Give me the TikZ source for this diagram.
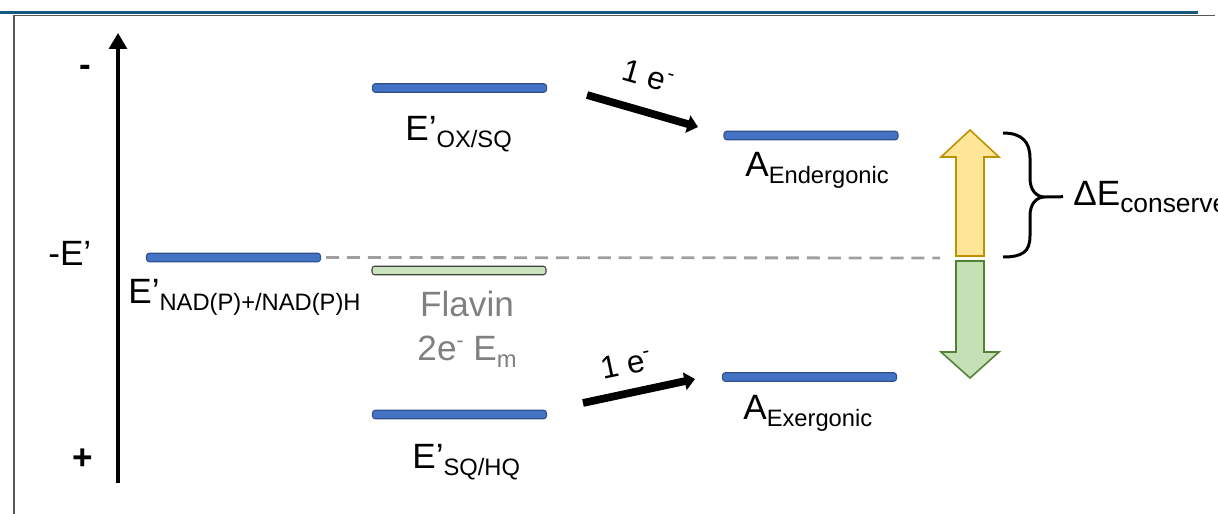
\documentclass[tikz,border=0pt]{standalone}
\usepackage{fontspec}
\setmainfont{Liberation Sans}
\usetikzlibrary{arrows.meta,positioning}

\definecolor{barblue}{RGB}{68,114,196}
\definecolor{bardark}{RGB}{47,82,143}
\definecolor{flavgreen}{RGB}{204,228,190}
\definecolor{upfill}{RGB}{255,230,153}
\definecolor{upline}{RGB}{191,144,0}
\definecolor{downfill}{RGB}{197,224,180}
\definecolor{downline}{RGB}{84,130,53}
\definecolor{framegray}{RGB}{89,89,89}
\definecolor{topblue}{RGB}{22,88,128}
\definecolor{flavgray}{RGB}{128,128,128}

\newcommand{\lowsub}[1]{\raisebox{-4pt}{\fontsize{13.5}{14}\selectfont #1}}
\newcommand{\minussup}{\raisebox{7pt}{\fontsize{12}{12}\selectfont -}}

\tikzset{
  level/.style={draw=bardark,fill=barblue,line width=0.6pt,rounded corners=1.5pt,
    minimum width=3.48cm,minimum height=0.17cm,inner sep=0pt},
  lbl/.style={font=\fontsize{20}{24}\selectfont,inner sep=0pt,anchor=base west},
  eflow/.style={line width=4.4pt,-{Triangle[width=10pt,length=6pt]}},
}

\begin{document}
\begin{tikzpicture}[x=0.02cm,y=-0.02cm]
  \useasboundingbox (0,0) rectangle (1218,514);
  \draw[topblue,line width=1.7pt] (0,12.5) -- (1198,12.5);
  \draw[framegray,line width=1.1pt] (1215,15.5) -- (14,15.5) -- (14,514);

  \coordinate (axbot) at (118,483);
  \coordinate (axtop) at (118,33);
  \draw[line width=2.8pt,-{Triangle[width=10pt,length=9pt]}] (axbot) -- (axtop);
  \node[lbl,anchor=base,font=\fontsize{20}{24}\selectfont\bfseries] (minus) at (85,76) {-};
  \node[lbl,anchor=base,font=\fontsize{20}{24}\selectfont\bfseries] (plus)  at (83,469) {+};
  \node[lbl] (axlbl) at (48,265) {-E’};

  \node[level] (nadbar) at (233.5,257.5) {};
  \node[level] (oxbar)  at (459.5,88)    {};
  \node[level,fill=flavgreen,draw=black!75] (flavbar) at (459,270.5) {};
  \node[level] (hqbar)  at (459.5,414.5) {};
  \node[level] (endbar) at (811,135.5)   {};
  \node[level] (exbar)  at (809.5,377)   {};

  \coordinate (dashend) at (940,258);
  \draw[gray!75,line width=1.6pt,dash pattern=on 7.4pt off 4.5pt,shorten <=0.1cm]
    (nadbar.east) -- (dashend);

  \node[lbl] (nadlbl) at (128,303) {E’\lowsub{NAD(P)+/NAD(P)H}};
  \node[lbl] (oxlbl)  at (405,140) {E’\lowsub{OX/SQ}};
  \node[lbl] (hqlbl)  at (412,468) {E’\lowsub{SQ/HQ}};
  \node[lbl] (endlbl) at (745,176) {A\lowsub{Endergonic}};
  \node[lbl] (exlbl)  at (743,419) {A\lowsub{Exergonic}};
  \node[lbl,anchor=base,flavgray] (flavlbl) at (467,316) {Flavin};
  \node[lbl,anchor=base,flavgray] (emlbl)   at (467,360) {2e\minussup{} E\lowsub{m}};
  \node[lbl] (dElbl)  at (1073,205) {ΔE\raisebox{-4pt}{\fontsize{15}{16}\selectfont conserve}};

  \coordinate (up1) at (587,95);
  \coordinate (up2) at (698,127);
  \draw[eflow] (up1) -- (up2);
  \node[font=\fontsize{18}{20}\selectfont,inner sep=0pt,rotate=-16] (etop) at (648,76) {1 e\minussup};
  \coordinate (lo1) at (583,403);
  \coordinate (lo2) at (695,379);
  \draw[eflow] (lo1) -- (lo2);
  \node[font=\fontsize{18}{20}\selectfont,inner sep=0pt,rotate=12] (ebot) at (626,364) {1 e\minussup};

  \draw[upline,fill=upfill,line width=0.9pt]
    (956,256) -- (956,157) -- (941,157) -- (970,130) -- (999,157) -- (984,157) -- (984,256) -- cycle;
  \draw[downline,fill=downfill,line width=0.9pt]
    (956,261) -- (956,352) -- (941,352) -- (970,378) -- (999,352) -- (984,352) -- (984,261) -- cycle;

  \coordinate (bracetip) at (1045,197);
  \draw[line width=1.7pt]
    (1003,133) .. controls (1022,133) and (1030,142) .. (1030,158) -- (1030,178)
    .. controls (1030,190) and (1036,197) .. (bracetip)
    .. controls (1036,197) and (1030,204) .. (1030,216) -- (1030,236)
    .. controls (1030,252) and (1022,257) .. (1003,257);
  \draw[line width=1.7pt,shorten >=0.2cm] (bracetip) -- (dElbl.west);
\end{tikzpicture}
\end{document}
